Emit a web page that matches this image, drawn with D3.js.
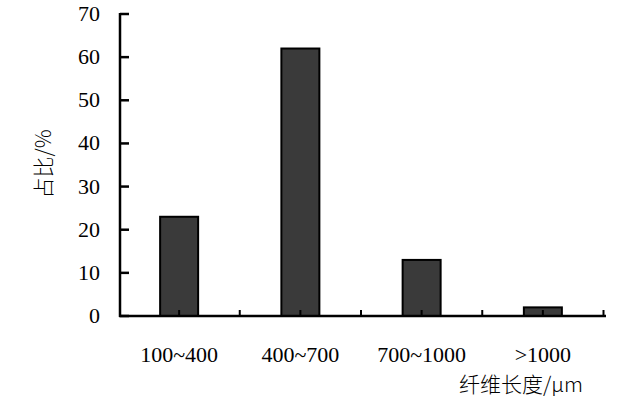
<!DOCTYPE html>
<html><head><meta charset="utf-8">
<script src="https://cdn.jsdelivr.net/npm/d3@7"></script>
<style>body{margin:0;background:#fff}</style>
</head><body>
<svg id="c" width="628" height="414"></svg>
<script>
const categories = ["100~400", "400~700", "700~1000", ">1000"];
const values = [23, 62, 13, 2];
const yTicks = [0, 10, 20, 30, 40, 50, 60, 70];
const xTitle = "纤维长度/μm";
const yTitle = "占比/%";

(function () {
const svg = d3.select("#c");
const mLeft = 120, mRight = 605, mTop = 14, mBottom = 316;
const x = d3.scaleBand().domain(categories).range([118.5, 603.5]);
const y = d3.scaleLinear().domain([0, 70]).range([mBottom, mTop]);
const serif = "Liberation Serif";

// bars
const bw = 38;
svg.selectAll("rect.bar").data(values).enter().append("rect")
  .attr("x", (d, i) => x(categories[i]) + x.bandwidth() / 2 - bw / 2)
  .attr("y", d => y(d))
  .attr("width", bw)
  .attr("height", d => y(0) - y(d))
  .attr("fill", "#3a3a3a")
  .attr("stroke", "#000")
  .attr("stroke-width", 2);

// y axis
svg.append("line").attr("x1", mLeft).attr("x2", mLeft).attr("y1", mTop - 1).attr("y2", mBottom + 1)
  .attr("stroke", "#000").attr("stroke-width", 2.5);
svg.selectAll("line.yt").data(yTicks).enter().append("line")
  .attr("x1", mLeft).attr("x2", mLeft + 9).attr("y1", d => y(d)).attr("y2", d => y(d))
  .attr("stroke", "#000").attr("stroke-width", 2.5);
svg.selectAll("text.yl").data(yTicks).enter().append("text")
  .style("font-family", serif, "important")
  .attr("x", 100).attr("y", d => y(d) + 7)
  .attr("text-anchor", "end").attr("font-size", 22)
  .text(d => d);

// x axis
svg.append("line").attr("x1", mLeft - 1).attr("x2", mRight + 1).attr("y1", mBottom).attr("y2", mBottom)
  .attr("stroke", "#000").attr("stroke-width", 2.5);
const xt = [];
categories.forEach(c => { xt.push(x(c) + x.bandwidth() / 2); xt.push(x(c) + x.bandwidth()); });
svg.selectAll("line.xt").data(xt).enter().append("line")
  .attr("x1", d => d).attr("x2", d => d).attr("y1", mBottom).attr("y2", mBottom - 6)
  .attr("stroke", "#000").attr("stroke-width", 2);
svg.selectAll("text.xl").data(categories).enter().append("text")
  .style("font-family", serif, "important")
  .attr("x", d => x(d) + x.bandwidth() / 2).attr("y", 362)
  .attr("text-anchor", "middle").attr("font-size", 22)
  .text(d => d);

// titles
svg.append("text").attr("x", 583).attr("y", 392).attr("text-anchor", "end")
  .style("font-family", "Noto Sans CJK SC", "important").attr("font-size", 21).attr("font-weight", 300)
  .text(xTitle);
svg.append("text").attr("transform", "translate(51,164) rotate(-90)").attr("text-anchor", "middle")
  .style("font-family", "Noto Sans CJK SC", "important").attr("font-size", 21).attr("font-weight", 300)
  .text(yTitle);
})();
</script>
</body></html>
